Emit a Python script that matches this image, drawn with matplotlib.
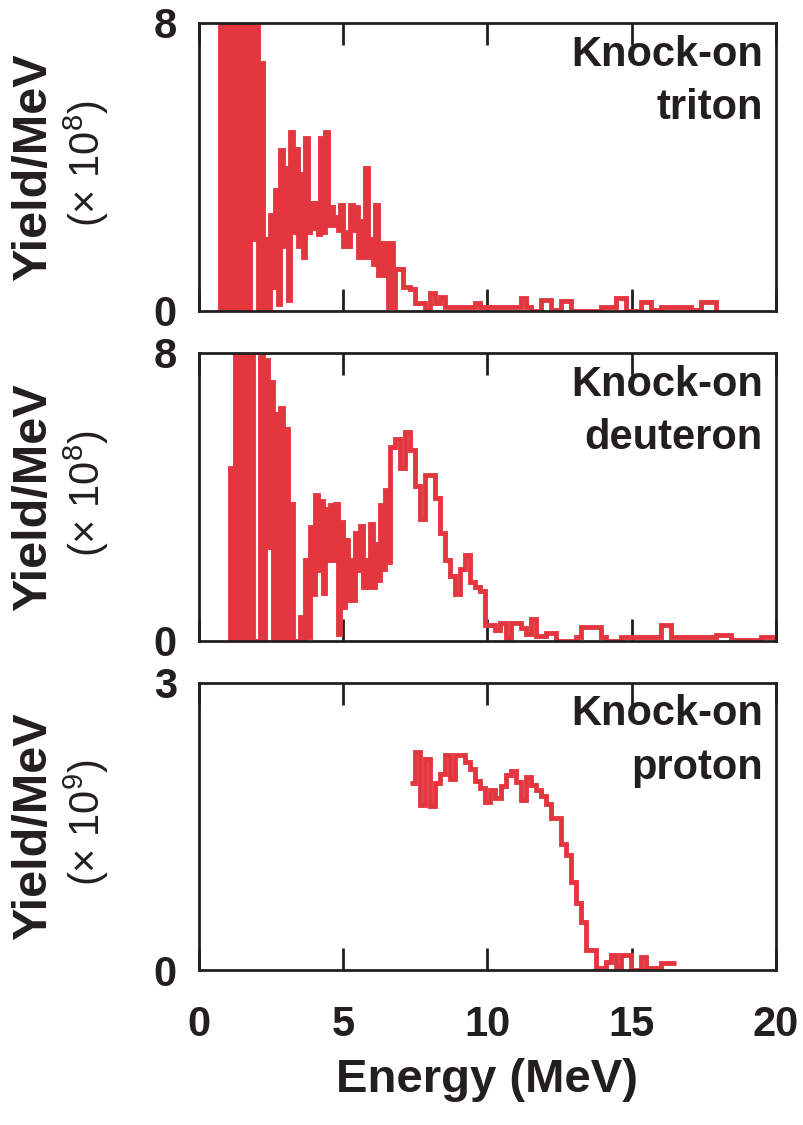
import numpy as np
import matplotlib
matplotlib.use('Agg')
import matplotlib.pyplot as plt

plt.rcParams['font.family'] = ['Liberation Sans', 'DejaVu Sans']
plt.rcParams['mathtext.fontset'] = 'custom'
plt.rcParams['mathtext.rm'] = 'Liberation Sans'
plt.rcParams['mathtext.it'] = 'Liberation Sans:italic'
plt.rcParams['mathtext.bf'] = 'Liberation Sans:bold'

RED = '#e3363e'
INK = '#231f20'

# ---------------- data (Yield/MeV) ----------------
BIN = 0.1736          # MeV, histogram bin width
X_TICKS = [0, 5, 10, 15, 20]

# Knock-on triton (units of 1e8)
tri_start = 0.729
tri_fine = [12, 0, 12, 0, 12, 0, 12, 0, 12, 0, 12, 0, 12, 2.0, 12, 0,
            6.9, 0, 2.0, 0, 2.67, 0.67, 3.36, 0.2, 4.47, 1.8, 3.97, 0.3,
            4.98, 2.2, 4.5, 1.8, 3.8, 1.5, 4.8, 2.2, 3.0, 2.3, 3.0, 2.15,
            4.8, 2.2, 4.98, 2.4, 2.9, 2.4, 2.6, 2.25, 2.94, 1.8, 2.2, 1.8,
            2.94, 2.25, 2.9, 1.5, 2.5, 1.5, 3.97, 1.5, 2.0, 1.3, 2.94, 1.0,
            1.88, 1.0, 1.88, 0.12, 1.88, 0.12, 1.18, 1.18, 1.18, 0.68]
tri_coarse = [0.68, 0.6, 0.21, 0.21, 0.0, 0.49, 0.21, 0.4, 0.12,
              0.12, 0.12, 0.12, 0.12, 0.12, 0.21,
              0.12, 0.12, 0.12, 0.12, 0.12, 0.12, 0.12, 0.12,
              0.36, 0.12, 0.0, 0.0, 0.31, 0.31, 0.03, 0.03, 0.27, 0.27,
              0.0, 0.0, 0.0, 0.0, 0.0, 0.0,
              0.12, 0.12, 0.12, 0.36, 0.36, 0.0, 0.0, 0.0,
              0.24, 0.24, 0.03, 0.03,
              0.12, 0.12, 0.12, 0.12, 0.12, 0.12, 0.03, 0.03,
              0.24, 0.24, 0.24]

# Knock-on deuteron (units of 1e8)
deu_start = 1.076
deu_fine = [4.8, 0, 12, 0, 12, 0, 12, 0, 12, 0, 0, 0, 12, 0, 7.8, 2.6,
            7.2, 0, 6.3, 0, 6.46, 0, 5.9, 0, 3.8, 0, 0, 0, 0.67, 0,
            2.25, 0.1, 3.18, 1.3, 4.06, 1.97, 3.9, 1.32, 3.67, 2.25,
            3.78, 2.25, 3.8, 0.2, 3.3, 0.95, 2.8, 1.14, 2.25, 1.14,
            3.0, 1.97, 3.2, 1.51, 2.25, 1.51, 3.25, 1.51, 2.7, 1.7,
            3.78, 2.0, 4.2, 2.2]
deu_coarse = [5.4, 5.6, 4.8, 5.8, 5.3, 4.3, 3.4, 4.6, 4.6, 3.97, 3.0, 2.25,
              1.8, 1.3, 2.0, 2.4, 1.65, 1.5, 1.4, 0.45, 0.45, 0.3, 0.5,
              0.07, 0.5, 0.5, 0.35, 0.2, 0.6, 0.15, 0.15, 0.23, 0.23,
              0.0, 0.0, 0.0, 0.0, 0.12, 0.38, 0.38, 0.38, 0.38, 0.12,
              0.0, 0.0, 0.0, 0.12,
              0.12, 0.12, 0.12, 0.12, 0.12, 0.12, 0.12,
              0.45, 0.45,
              0.1, 0.1, 0.1, 0.1, 0.1, 0.1, 0.1, 0.1, 0.1,
              0.17, 0.17, 0.17,
              0.03, 0.03, 0.03, 0.03, 0.03, 0.03,
              0.1, 0.1, 0.1]

# Knock-on proton (units of 1e9)
pro_start = 7.326
pro_vals = [1.95, 2.28, 1.72, 2.21, 1.71, 1.95, 2.05, 2.25, 2.0, 2.25,
            2.25, 2.17, 2.10, 1.98, 1.90, 1.76, 1.88, 1.80, 1.92, 2.04,
            2.08, 1.97, 1.78, 2.02, 1.93, 1.88, 1.82, 1.74, 1.59, 1.59,
            1.32, 1.20, 0.92, 0.70, 0.50, 0.21, 0.21, 0.02, 0.02, 0.08,
            0.16, 0.02, 0.16, 0.16, 0.0, 0.0, 0.14, 0.02, 0.02, 0.02,
            0.07, 0.07, 0.07]

panels = [
    dict(name='Knock-on\ntriton', exp='8', ymax=8),
    dict(name='Knock-on\ndeuteron', exp='8', ymax=8),
    dict(name='Knock-on\nproton', exp='9', ymax=3),
]


def edges_two(start, fine, coarse):
    e_f = start + (BIN / 2) * np.arange(len(fine))
    e_c = start + (BIN / 2) * len(fine) + BIN * np.arange(len(coarse) + 1)
    return np.concatenate([e_f, e_c]), np.array(list(fine) + list(coarse), float)


tri_edges, tri_vals = edges_two(tri_start, tri_fine, tri_coarse)
deu_edges, deu_vals = edges_two(deu_start, deu_fine, deu_coarse)
pro_edges = pro_start + BIN * np.arange(len(pro_vals) + 1)

series = [(tri_edges, tri_vals, 0), (deu_edges, deu_vals, 0),
          (pro_edges, np.array(pro_vals), None)]

fig = plt.figure(figsize=(8.04, 11.25), dpi=100)
W = 804.0
H = 1125.0
left = 199 / W
width = 577 / W
boxes = [(23, 311), (353, 641), (683, 970)]

for i, (p, (ed, v, base), (t, b)) in enumerate(zip(panels, series, boxes)):
    ax = fig.add_axes([left, 1 - b / H, width, (b - t) / H])
    ax.stairs(v, ed, baseline=base, color=RED, lw=3.5, zorder=2)
    ax.set_xlim(0, 20)
    ax.set_ylim(0, p['ymax'])
    ax.set_yticks([0, p['ymax']])
    ax.set_yticklabels(['0', str(p['ymax'])], fontsize=30, fontweight='bold',
                       color=INK)
    ax.set_xticks(X_TICKS)
    for s in ax.spines.values():
        s.set_linewidth(2.0)
        s.set_color(INK)
    ax.tick_params(axis='y', length=0, pad=16)
    ax.tick_params(axis='x', direction='in', length=16, width=2, color=INK,
                   top=True, bottom=True, labelsize=30, pad=25,
                   labelbottom=(i == 2), labelcolor=INK)
    if i == 2:
        for lab in ax.get_xticklabels():
            lab.set_fontweight('bold')
    ax.text(0.977, 0.96, p['name'], transform=ax.transAxes, ha='right',
            va='top', fontsize=30, fontweight='bold', color=INK,
            linespacing=1.45, multialignment='right')
    yc = 1 - (t + b) / 2 / H
    fig.text(34 / W, yc, 'Yield/MeV', rotation=90, ha='center', va='center',
             fontsize=35, fontweight='bold', color=INK)
    fig.text(86 / W, yc + 4 / H, '(× 10$^{%s}$)' % p['exp'], rotation=90,
             ha='center', va='center', fontsize=30, color=INK)

fig.text((199 + 577 / 2) / W, 1 - 1080 / H, 'Energy (MeV)', ha='center',
         va='center', fontsize=34, fontweight='bold', color=INK)

fig.savefig('out.png', dpi=100)
